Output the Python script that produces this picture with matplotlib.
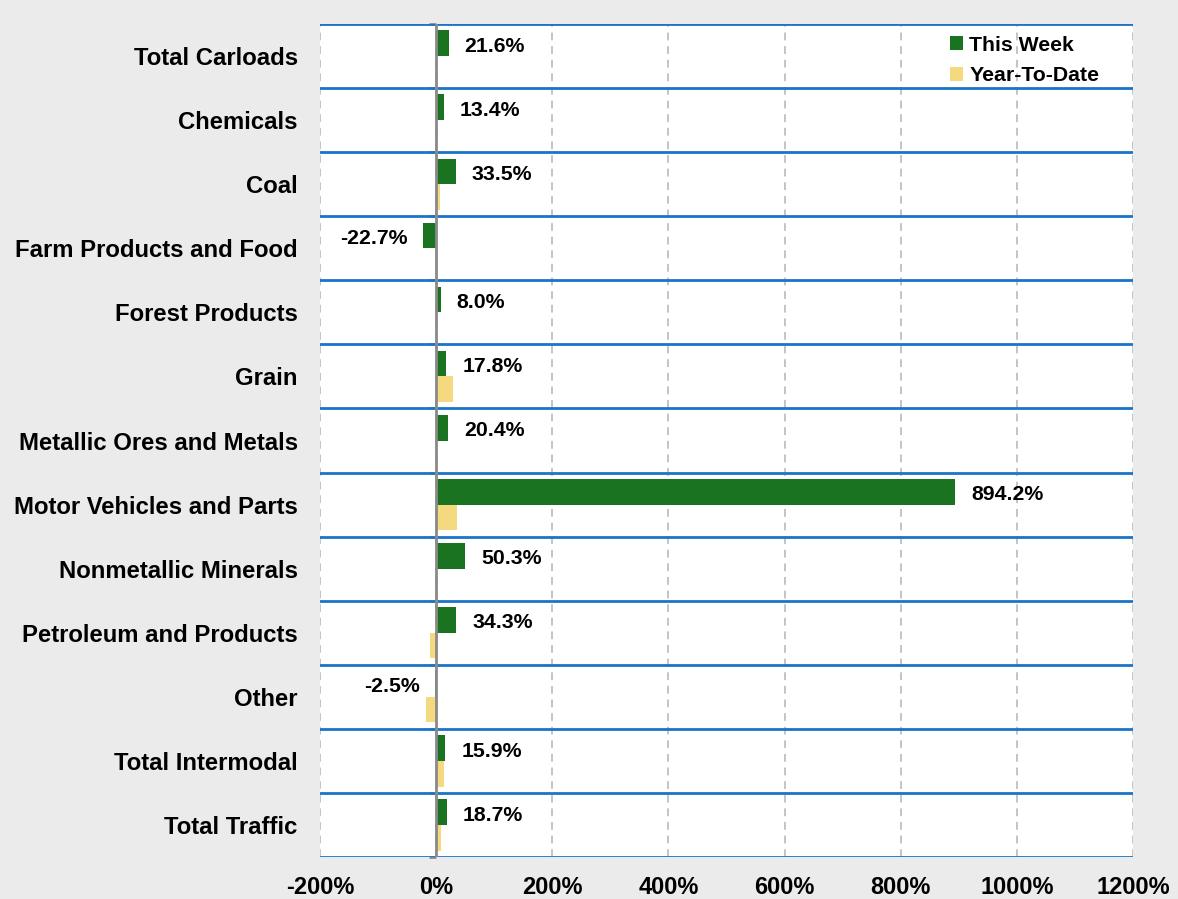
import matplotlib
matplotlib.use("Agg")
import matplotlib.pyplot as plt
import numpy as np

categories = ["Total Carloads", "Chemicals", "Coal", "Farm Products and Food",
              "Forest Products", "Grain", "Metallic Ores and Metals",
              "Motor Vehicles and Parts", "Nonmetallic Minerals",
              "Petroleum and Products", "Other", "Total Intermodal", "Total Traffic"]
this_week = [21.6, 13.4, 33.5, -22.7, 8.0, 17.8, 20.4, 894.2, 50.3, 34.3, -2.5, 15.9, 18.7]
ytd = [1.5, 1.0, 6.5, -1.5, 1.0, 28.5, 0.5, 35.4, 1.5, -11.4, -17.7, 13.1, 8.0]
xticks = [-200, 0, 200, 400, 600, 800, 1000, 1200]

plt.rcParams['font.family'] = ['Liberation Sans', 'DejaVu Sans']
plt.rcParams['font.weight'] = 'bold'

fig = plt.figure(figsize=(11.78, 8.99), dpi=100, facecolor='#ebebeb')
ax = fig.add_axes([320/1178, 1-857/899, (1133-320)/1178, (857-24)/899])
ax.set_facecolor('white')

n = len(categories)
y = np.arange(n)
h = 0.4
green = '#1a7320'
yellow = '#f4d97f'
ax.barh(y - h/2, this_week, height=h, color=green, label='This Week', zorder=3)
ax.barh(y + h/2, ytd, height=h, color=yellow, label='Year-To-Date', zorder=3)

ax.set_xlim(-200, 1200)
ax.set_ylim(n - 0.5, -0.5)
ax.set_xticks(xticks)
ax.set_xticklabels([f"{v}%" for v in xticks], fontsize=17, fontweight='bold')
ax.tick_params(axis='x', length=0, pad=14)
ax.set_yticks(y)
ax.set_yticklabels(categories, fontsize=17.2, fontweight='bold')
ax.tick_params(axis='y', length=0, pad=16)

for s in ax.spines.values():
    s.set_visible(False)

# vertical dashed grid
for xv in xticks:
    ax.axvline(xv, color='#c4c4c4', linestyle=(0, (4, 3)), linewidth=1.4, zorder=1)
# horizontal row lines
for b in np.arange(n + 1) - 0.5:
    ax.axhline(b, color='#1a74c8', linewidth=2, zorder=2)
# zero axis
ax.axvline(0, color='#8a8a8a', linewidth=2, zorder=4)
sec = ax.secondary_yaxis(200/1400)
sec.set_yticks(np.arange(n + 1) - 0.5)
sec.set_yticklabels([])
sec.tick_params(axis='y', direction='out', length=5, width=2, color='#8a8a8a')
sec.spines['left'].set_visible(False)

# data labels
for yi, v in zip(y, this_week):
    if v >= 0:
        ax.annotate(f"{v:.1f}%", (v, yi - h/2), xytext=(16, -3), textcoords='offset pixels',
                    ha='left', va='center', fontsize=15.3, fontweight='bold', zorder=5)
    else:
        ax.annotate(f"{v:.1f}%", (v, yi - h/2), xytext=(-15, -3), textcoords='offset pixels',
                    ha='right', va='center', fontsize=15.3, fontweight='bold', zorder=5)

leg = ax.legend(loc='upper right', bbox_to_anchor=(0.982, 1.009), frameon=False,
                prop={'size': 15.3, 'weight': 'bold'}, handlelength=0.6, handleheight=0.6,
                handletextpad=0.3, labelspacing=0.55)

fig.savefig('out.png', dpi=100, facecolor=fig.get_facecolor())
